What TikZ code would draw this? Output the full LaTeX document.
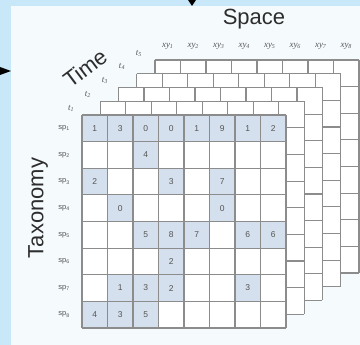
\documentclass[tikz,border=0pt]{standalone}
\usepackage{fontspec}
\setmainfont{Liberation Sans}
\newfontfamily\labserif{Liberation Serif}
\definecolor{outerbg}{RGB}{200,232,250}
\definecolor{panelbg}{RGB}{245,250,253}
\definecolor{gridc}{RGB}{140,140,140}
\definecolor{cellfill}{RGB}{212,224,237}
\definecolor{txtc}{RGB}{85,85,85}
\definecolor{bigtxt}{RGB}{45,45,45}
\tikzset{
  gridline/.style={draw=gridc, line width=1.1pt},
  numlab/.style={font=\fontsize{8.5}{9}\selectfont, text=txtc, inner sep=0pt},
  splab/.style={font=\fontsize{7.5}{8}\selectfont, text=txtc, inner sep=0pt, anchor=east},
  axlab/.style={font=\labserif\itshape\fontsize{9}{10}\selectfont, text=txtc, inner sep=0pt},
  bigname/.style={font=\fontsize{22}{24}\selectfont, text=bigtxt, inner sep=0pt},
}
\begin{document}
\begin{tikzpicture}[x=1pt,y=-1pt]
\fill[outerbg] (0,0) rectangle (360,345);
\useasboundingbox (0,0) rectangle (360,345);
\fill[panelbg] (11,6) rectangle (360,345);
% arrow tips of the surrounding figure
\fill[black] (0,67) -- (11,71) -- (0,75) -- cycle;
\fill[black] (188,0) -- (192,6) -- (196,0) -- cycle;
% back layers
\foreach \k in {4,3,2,1}{
  \pgfmathsetmacro\ox{82+18.25*\k}
  \pgfmathsetmacro\oy{115-13.75*\k}
  \fill[white] (\ox,\oy) rectangle ++(204,213);
  \foreach \i in {0,...,8} \draw[gridline] (\ox+\i*25.5,\oy) -- ++(0,213);
  \foreach \j in {0,...,8} \draw[gridline] (\ox,\oy+\j*26.625) -- ++(204,0);
}
% front layer
\fill[white] (82,115) rectangle ++(204,213);
\foreach \c/\r/\v in {1/1/1,2/1/3,3/1/0,4/1/0,5/1/1,6/1/9,7/1/1,8/1/2,
  3/2/4, 1/3/2,4/3/3,6/3/7, 2/4/0,6/4/0, 3/5/5,4/5/8,5/5/7,7/5/6,8/5/6,
  4/6/2, 2/7/1,3/7/3,4/7/2,7/7/3, 1/8/4,2/8/3,3/8/5}{
  \fill[cellfill] (82+\c*25.5-25.5,115+\r*26.625-26.625) rectangle ++(25.5,26.625);
  \node[numlab] (v-\c-\r) at (82+\c*25.5-12.75,115+\r*26.625-13.3125) {\v};
}
\foreach \i in {0,...,8} \draw[gridline] (82+\i*25.5,115) -- ++(0,213);
\foreach \j in {0,...,8} \draw[gridline] (82,115+\j*26.625) -- ++(204,0);
% row labels
\foreach \r in {1,...,8}
  \node[splab] (sp\r) at (70,115+\r*26.625-13.3125) {sp\textsubscript{\r}};
% time labels
\foreach \k in {1,...,5}
  \node[axlab] (t\k) at (71+17*\k-17,108-13.75*\k+13.75) {t\textsubscript{\k}};
% space labels
\foreach \i in {1,...,8}
  \node[axlab] (xy\i) at (155+\i*25.5-12.75,46) {xy\textsubscript{\i}};
% axis names
\node[bigname] (space) at (254,19) {Space};
\node[bigname, rotate=90] (taxonomy) at (38,208) {Taxonomy};
\node[bigname, rotate=37] (time) at (85,68) {Time};
\end{tikzpicture}
\end{document}
